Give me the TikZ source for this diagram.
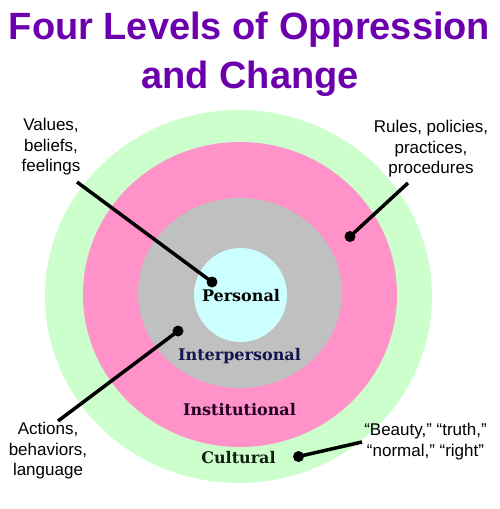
\documentclass[tikz,border=0pt]{standalone}
\usepackage{fontspec}
\setmainfont{Liberation Sans}
\newfontfamily\ringfont{DejaVu Serif}
\definecolor{ringgreen}{RGB}{204,255,204}
\definecolor{ringpink}{RGB}{255,146,200}
\definecolor{ringgray}{RGB}{192,192,192}
\definecolor{ringcyan}{RGB}{204,255,255}
\definecolor{titlepurple}{RGB}{108,0,172}
\definecolor{navy}{RGB}{20,20,80}
\definecolor{darkplum}{RGB}{32,0,32}
\definecolor{darkgreen}{RGB}{16,32,16}
\tikzset{
  x=1pt, y=-1pt,
  ringlabel/.style={font=\ringfont\bfseries\fontsize{16}{18}\selectfont, inner sep=0pt},
  sidelabel/.style={font=\fontsize{17}{20.5}\selectfont, align=center, inner sep=0pt},
  titletext/.style={font=\bfseries\fontsize{38}{44}\selectfont, inner sep=0pt, anchor=base},
  leader/.style={line width=3.5pt, black},
  dotmark/.style={fill=black}
}
\begin{document}
\begin{tikzpicture}
\useasboundingbox (0,0) rectangle (500,509);
% title
\node[titletext, text=titlepurple] (t1) at (249.5,39) {Four Levels of Oppression};
\node[titletext, text=titlepurple] (t2) at (250,88) {and Change};
% rings
\fill[ringgreen] (238.5,296.5) ellipse [x radius=193.5pt, y radius=186.5pt];
\fill[ringpink] (240,294.5) ellipse [x radius=157pt, y radius=152.5pt];
\fill[ringgray] (240,293) ellipse [x radius=102pt, y radius=95pt];
\fill[ringcyan] (240.5,295) ellipse [x radius=46.5pt, y radius=47pt];
% ring labels
\node[ringlabel, text=black] (personal) at (241,296) {Personal};
\node[ringlabel, text=navy] (interpersonal) at (239.5,356) {Interpersonal};
\node[ringlabel, text=darkplum] (institutional) at (239.5,410) {Institutional};
\node[ringlabel, text=darkgreen] (cultural) at (238.5,458) {Cultural};
% side labels
\node[sidelabel] (values) at (51,147) {Values,\\beliefs,\\feelings};
\node[sidelabel] (rules) at (431,149) {Rules, policies,\\practices,\\procedures};
\node[sidelabel] (actions) at (48,451) {Actions,\\behaviors,\\language};
\node[sidelabel] (beauty) at (425.5,441.5) {“Beauty,” “truth,”\\“normal,” “right”};
% leader lines
\coordinate (d1) at (212,282);
\coordinate (d2) at (350,236.5);
\coordinate (d3) at (178,331);
\coordinate (d4) at (298.5,456.5);
\coordinate (e1) at (77,182);
\coordinate (e2) at (408,183);
\coordinate (e3) at (58,421);
\coordinate (e4) at (362,442);
\draw[leader] (e1) -- (d1);
\draw[leader] (e2) -- (d2);
\draw[leader] (e3) -- (d3);
\draw[leader] (e4) -- (d4);
\foreach \d in {d1,d2,d3,d4} \fill[dotmark] (\d) circle (5.5pt);
\end{tikzpicture}
\end{document}
